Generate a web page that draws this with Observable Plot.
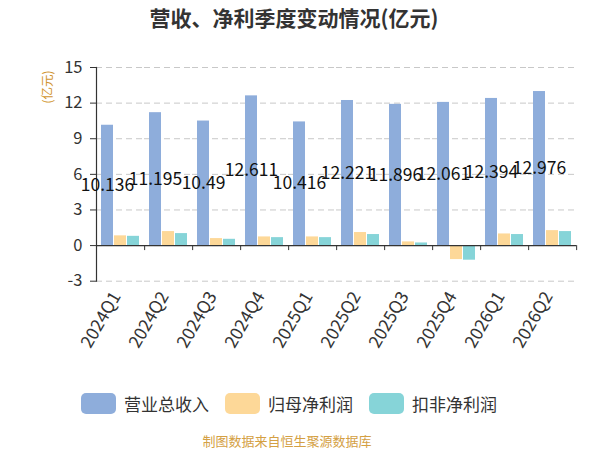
<!DOCTYPE html>
<html>
<head>
<meta charset="utf-8">
<script src="https://cdn.jsdelivr.net/npm/d3@7"></script>
<script src="https://cdn.jsdelivr.net/npm/@observablehq/plot@0.6"></script>
<style>
  body { margin: 0; background: #fff; font-family: "Noto Sans CJK SC", "Noto Sans", sans-serif; }
  #wrap { position: relative; width: 600px; height: 450px; overflow: hidden; }
  #title { position: absolute; left: 0; width: 588px; top: 6px; text-align: center; font-size: 21px; line-height: 22px; font-weight: bold; color: #333; }
  #unit { position: absolute; left: 30px; top: 78px; width: 34px; height: 18px; font-size: 12.5px; line-height: 18px; color: #d1952f; transform: rotate(-90deg); text-align: center; }
  #chart { position: absolute; left: 0; top: 40px; }
  #legend { position: absolute; left: 81px; top: 391px; display: flex; align-items: center; font-size: 17px; color: #333; }
  .item { display: flex; align-items: center; margin-right: 16px; }
  .sw { width: 35px; height: 21px; border-radius: 5px; margin-right: 8px; }
  #caption { position: absolute; left: 0; width: 574px; top: 432px; text-align: center; font-size: 13px; line-height: 18px; color: #d4a043; }
</style>
</head>
<body>
<div id="wrap">
  <div id="title">营收、净利季度变动情况(亿元)</div>
  <div id="unit">(亿元)</div>
  <div id="chart"></div>
  <div id="legend"></div>
  <div id="caption">制图数据来自恒生聚源数据库</div>
</div>
<script>
const quarters = ["2024Q1","2024Q2","2024Q3","2024Q4","2025Q1","2025Q2","2025Q3","2025Q4","2026Q1","2026Q2"];
const series = ["营业总收入","归母净利润","扣非净利润"];
const colors = ["#8eaddb","#fdd898","#86d4d8"];
const revenue = [10.136, 11.195, 10.49, 12.611, 10.416, 12.221, 11.896, 12.061, 12.394, 12.976];
const revenueLabels = ["10.136","11.195","10.49","12.611","10.416","12.221","11.896","12.061","12.394","12.976"];
const netProfit = [0.82, 1.18, 0.59, 0.73, 0.73, 1.10, 0.31, -1.18, 0.98, 1.26];
const deductedProfit = [0.78, 1.01, 0.53, 0.67, 0.67, 0.93, 0.22, -1.23, 0.93, 1.18];
const yTicks = [-3, 0, 3, 6, 9, 12, 15];

const rows = [];
quarters.forEach((q, i) => {
  rows.push({q, s: series[0], v: revenue[i], label: revenueLabels[i]});
  rows.push({q, s: series[1], v: netProfit[i]});
  rows.push({q, s: series[2], v: deductedProfit[i]});
});
const revRows = rows.filter(d => d.s === series[0]);

const W = 600, H = 330, mt = 27, mb = 89.3, ml = 94, mr = 23;
const unitPx = (H - mt - mb) / (15 - (-3));
const zeroOffset = -3 * unitPx; // from frame bottom (-3) up to zero
const band = (W - ml - mr) / quarters.length;

const font = '"Noto Sans CJK SC", "Noto Sans", sans-serif';

const chart = Plot.plot({
  width: W, height: H,
  marginTop: mt, marginBottom: mb, marginLeft: ml, marginRight: mr,
  style: {fontFamily: font, background: "transparent", overflow: "visible"},
  fx: {domain: quarters, padding: 0, label: null, axis: null},
  x: {domain: series, paddingInner: 0.08, paddingOuter: 0.3, axis: null},
  y: {domain: [-3, 15], label: null},
  color: {domain: series, range: colors},
  marks: [
    Plot.gridY(yTicks, {stroke: "#c8c8c8", strokeOpacity: 1, strokeDasharray: "6,4"}),
    Plot.barY(rows, {fx: "q", x: "s", y: "v", fill: "s"}),
    Plot.ruleY([0], {stroke: "#333", strokeWidth: 1.2}),
    Plot.frame({anchor: "left", stroke: "#333", strokeWidth: 1.2, facetAnchor: "left"}),
    Plot.axisY(yTicks, {tickSize: 6, tickPadding: 8, fontSize: 16.5, fill: "#333", stroke: "#333", label: null, tickFormat: d => String(d)}),
    Plot.axisFx({anchor: "bottom", tickSize: 5, tickFormat: () => "", dx: band / 2, dy: zeroOffset, stroke: "#333", label: null}),
    Plot.axisFx({anchor: "bottom", tickSize: 0, tickPadding: 12, tickRotate: -60, fontSize: 17.5, fill: "#333", dx: -4, label: null}),
    Plot.text(revRows, {fx: "q", x: "s", y: d => d.v / 2, text: "label", fontSize: 17.5, fill: "#111"})
  ]
});
document.getElementById("chart").appendChild(chart);

const legend = document.getElementById("legend");
series.forEach((s, i) => {
  const it = document.createElement("div");
  it.className = "item";
  it.innerHTML = `<div class="sw" style="background:${colors[i]}"></div><span>${s}</span>`;
  legend.appendChild(it);
});
</script>
</body>
</html>
